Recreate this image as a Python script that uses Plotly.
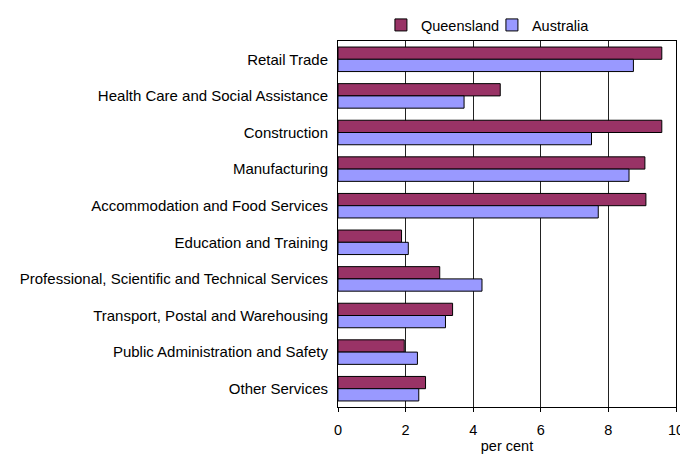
import plotly.graph_objects as go

categories = [
    "Retail Trade",
    "Health Care and Social Assistance",
    "Construction",
    "Manufacturing",
    "Accommodation and Food Services",
    "Education and Training",
    "Professional, Scientific and Technical Services",
    "Transport, Postal and Warehousing",
    "Public Administration and Safety",
    "Other Services",
]
queensland = [9.58, 4.80, 9.58, 9.08, 9.11, 1.88, 3.01, 3.39, 1.96, 2.59]
australia = [8.74, 3.73, 7.50, 8.61, 7.70, 2.08, 4.26, 3.18, 2.35, 2.39]
x_ticks = [0, 2, 4, 6, 8, 10]

font = "Liberation Sans, Arial, sans-serif"

fig = go.Figure()
fig.add_trace(go.Bar(
    y=categories, x=queensland, name="Queensland", orientation="h",
    marker=dict(color="#993366", line=dict(color="black", width=1)),
))
fig.add_trace(go.Bar(
    y=categories, x=australia, name="Australia", orientation="h",
    marker=dict(color="#9999FF", line=dict(color="black", width=1)),
))

fig.update_layout(
    width=680, height=454,
    margin=dict(l=338, r=4, t=41, b=47, autoexpand=False),
    paper_bgcolor="white", plot_bgcolor="white",
    font=dict(family=font, size=15, color="black"),
    barmode="group", bargap=0.33, bargroupgap=0,
    showlegend=True,
    legend=dict(orientation="h", x=0.127, xanchor="left", y=1.0, yanchor="bottom",
                font=dict(size=14.5), itemwidth=30, tracegroupgap=0,
                entrywidth=66, entrywidthmode="pixels",
                bgcolor="rgba(0,0,0,0)"),
    xaxis=dict(range=[0, 10], tickvals=x_ticks, ticktext=[str(v) for v in x_ticks],
               showgrid=True, gridcolor="#222222", gridwidth=1,
               showline=True, linecolor="black", linewidth=1, mirror=True,
               ticks="outside", ticklen=4, tickcolor="black",
               zeroline=False, ticklabelstandoff=6, ticklabeloverflow="allow",
               tickfont=dict(size=14.5),
               title=dict(text="per cent", standoff=4, font=dict(size=14.5))),
    yaxis=dict(autorange="reversed", showline=True, linecolor="black", linewidth=1,
               mirror=True, ticks="", ticklabelstandoff=6, showgrid=False),
)

fig.write_html("out.html", config={"displayModeBar": False},
               post_script="document.body.style.margin='0';document.body.style.overflow='hidden';")
